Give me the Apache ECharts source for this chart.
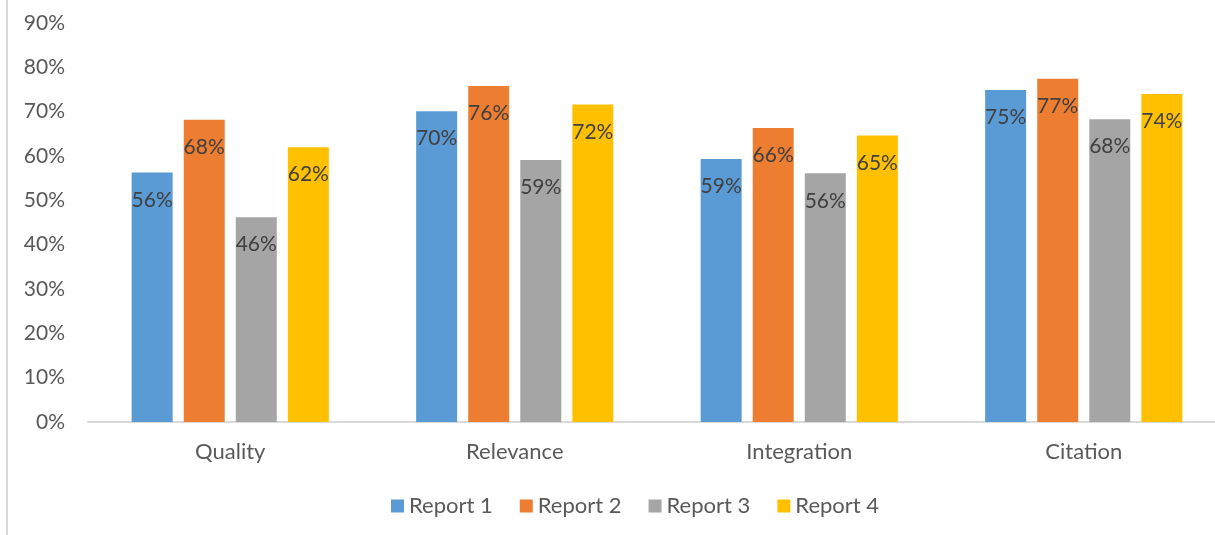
<!DOCTYPE html>
<html><head><meta charset="utf-8">
<script src="https://cdn.jsdelivr.net/npm/echarts@6/dist/echarts.min.js"></script>
<style>html,body{margin:0;padding:0;background:#fff}#c{width:1215px;height:535px}</style>
</head><body><div id="c"></div>
<script>
const categories = ['Quality', 'Relevance', 'Integration', 'Citation'];
const report1 = [56.3, 70.1, 59.3, 74.9];
const report2 = [68.2, 75.8, 66.3, 77.4];
const report3 = [46.2, 59.1, 56.1, 68.3];
const report4 = [62.0, 71.6, 64.6, 74.0];
const seriesNames = ['Report 1', 'Report 2', 'Report 3', 'Report 4'];
const colors = ['#5B9BD5', '#ED7D31', '#A5A5A5', '#FFC000'];

const FONT = 'Lato, "Open Sans", sans-serif';
const chart = echarts.init(document.getElementById('c'));
const mk = (name, data, i) => ({
  name, type: 'bar', data, barWidth: 41, barGap: '27%',
  itemStyle: { color: colors[i] },
  label: {
    show: true, position: 'insideTop', distance: 17,
    formatter: p => Math.round(p.value) + '%',
    color: '#404040', fontSize: 21, fontFamily: FONT
  }
});
chart.setOption({
  animation: false,
  color: colors,
  grid: { left: 88, width: 1138, top: 23, height: 399, outerBoundsMode: 'none', containLabel: false },
  xAxis: {
    type: 'category', data: categories,
    axisLine: { lineStyle: { color: '#D9D9D9', width: 2 } },
    axisTick: { show: false },
    axisLabel: { color: '#595959', fontSize: 22, fontFamily: FONT, margin: 19 }
  },
  yAxis: {
    type: 'value', min: 0, max: 90, interval: 10,
    axisLine: { show: false }, axisTick: { show: false },
    splitLine: { show: false },
    axisLabel: { formatter: '{value}%', color: '#595959', fontSize: 21, fontFamily: FONT, margin: 23 }
  },
  legend: {
    data: seriesNames, bottom: 13, left: 386,
    itemWidth: 13, itemHeight: 13, itemGap: 27, icon: 'rect',
    textStyle: { color: '#595959', fontSize: 22, fontFamily: FONT }
  },
  graphic: [{ type: 'line', shape: { x1: 7, y1: 0, x2: 7, y2: 535 }, style: { stroke: '#D9D9D9', lineWidth: 2 } }],
  series: [mk(seriesNames[0], report1, 0), mk(seriesNames[1], report2, 1), mk(seriesNames[2], report3, 2), mk(seriesNames[3], report4, 3)]
});
</script></body></html>
